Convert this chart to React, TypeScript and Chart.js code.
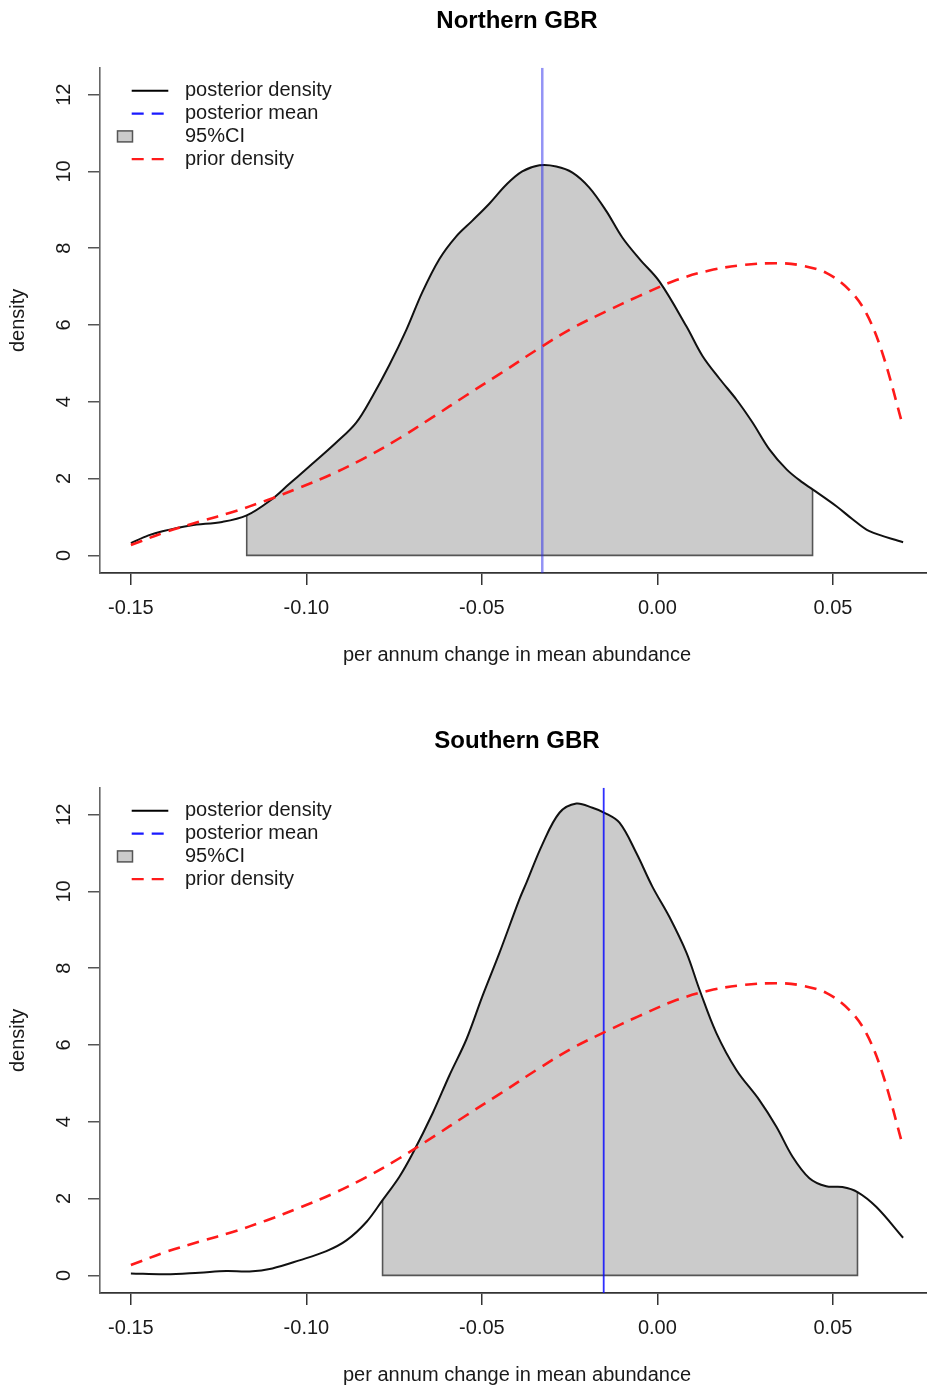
import React, { useEffect, useRef } from 'react';
import { Chart, registerables } from 'chart.js';

Chart.register(...registerables);

// ---------- data ----------
const X_MIN = -0.1588;
const X_MAX = 0.0788;
const Y_MIN = -0.46;
const Y_MAX = 12.7;
const X_TICKS = [-0.15, -0.1, -0.05, 0, 0.05];
const Y_TICKS = [0, 2, 4, 6, 8, 10, 12];
const X_LABEL = 'per annum change in mean abundance';
const Y_LABEL = 'density';
const LEGEND_LABELS = ['posterior density', 'posterior mean', '95%CI', 'prior density'];
const PANEL_TITLES = ['Northern GBR', 'Southern GBR'];

const NORTH_POST_X = [
  -0.15, -0.145, -0.141, -0.133, -0.124, -0.117, -0.11, -0.105, -0.1, -0.0915,
  -0.0858, -0.0812, -0.0764, -0.0715, -0.067, -0.0621, -0.0573, -0.0527, -0.0479, -0.043,
  -0.0385, -0.0336, -0.0288, -0.0242, -0.0194, -0.0145, -0.01, -0.005, 0.0006, 0.0083,
  0.0128, 0.0177, 0.0225, 0.0271, 0.0319, 0.0368, 0.0413, 0.0442, 0.051, 0.0556,
  0.0604, 0.07,
];
const NORTH_POST_Y = [
  0.32, 0.52, 0.63, 0.78, 0.87, 1.04, 1.45, 1.85, 2.25, 2.94,
  3.46, 4.14, 4.95, 5.88, 6.85, 7.72, 8.31, 8.72, 9.16, 9.66,
  10.0, 10.16, 10.13, 9.97, 9.58, 8.96, 8.28, 7.71, 7.13, 5.96,
  5.2, 4.6, 4.06, 3.46, 2.76, 2.24, 1.9, 1.72, 1.28, 0.94,
  0.63, 0.34,
];
const NORTH_CI = [-0.117, 0.0442];
const NORTH_MEAN = -0.0328;

const SOUTH_POST_X = [
  -0.15, -0.14, -0.1305, -0.1228, -0.1162, -0.1097, -0.102, -0.0943, -0.0886, -0.0829,
  -0.0783, -0.0735, -0.0697, -0.064, -0.0593, -0.0544, -0.0499, -0.045, -0.0393, -0.0373,
  -0.0328, -0.0279, -0.0231, -0.0185, -0.0151, -0.0108, -0.006, -0.0014, 0.0034, 0.0083,
  0.012, 0.0168, 0.0225, 0.029, 0.0339, 0.0385, 0.0433, 0.0481, 0.0527, 0.057,
  0.0624, 0.07,
];
const SOUTH_POST_Y = [
  0.05, 0.03, 0.07, 0.11, 0.1, 0.18, 0.39, 0.63, 0.91, 1.39,
  1.96, 2.57, 3.18, 4.23, 5.2, 6.15, 7.26, 8.4, 9.8, 10.23,
  11.22, 12.05, 12.29, 12.18, 12.05, 11.79, 11.0, 10.12, 9.34, 8.4,
  7.44, 6.31, 5.35, 4.57, 3.87, 3.09, 2.53, 2.32, 2.3, 2.17,
  1.78, 0.98,
];
const SOUTH_CI = [-0.0783, 0.057];
const SOUTH_MEAN = -0.0153;

const PRIOR_X = [
  -0.15, -0.14, -0.13, -0.121, -0.1114, -0.102, -0.0926, -0.0829, -0.0735, -0.064,
  -0.0544, -0.045, -0.0336, -0.0242, -0.0145, -0.0051, 0.0054, 0.0148, 0.0242, 0.0339,
  0.0405, 0.0481, 0.0547, 0.0595, 0.0641, 0.07,
];
const PRIOR_Y = [
  0.27, 0.61, 0.89, 1.13, 1.43, 1.76, 2.12, 2.56, 3.05, 3.6,
  4.17, 4.72, 5.4, 5.92, 6.36, 6.76, 7.17, 7.42, 7.56, 7.61,
  7.56, 7.36, 6.91, 6.31, 5.27, 3.35,
];

// ---------- styling ----------
const FONT = '"Liberation Sans", Arial, sans-serif';
const TEXT = '#1a1a1a';
const AXIS = '#333333';
const SMOOTH = 0.35;

const rLegendPlugin = {
  id: 'rLegend',
  afterDraw(chart: any, _args: any, opts: any) {
    const { ctx, chartArea } = chart;
    const left = chartArea.left;
    const top = chartArea.top;
    ctx.save();
    ctx.font = `20px ${FONT}`;
    ctx.textBaseline = 'middle';
    ctx.textAlign = 'left';
    (opts.items || []).forEach((item: any, i: number) => {
      const y = top + 23 + i * 22.8;
      if (item.kind === 'box') {
        ctx.setLineDash([]);
        ctx.fillStyle = item.fill;
        ctx.fillRect(left + 17.5, y - 5.5, 15, 11);
        ctx.strokeStyle = item.stroke;
        ctx.lineWidth = 1.5;
        ctx.strokeRect(left + 17.5, y - 5.5, 15, 11);
      } else {
        ctx.beginPath();
        ctx.setLineDash(item.dash);
        ctx.strokeStyle = item.color;
        ctx.lineWidth = item.width;
        ctx.moveTo(left + 31.7, y);
        ctx.lineTo(left + 68.3, y);
        ctx.stroke();
      }
      ctx.setLineDash([]);
      ctx.fillStyle = TEXT;
      ctx.fillText(item.label, left + 85, y);
    });
    ctx.restore();
  },
};

type Panel = {
  title: string;
  postX: number[];
  postY: number[];
  ci: number[];
  mean: number;
  meanColor: string;
  meanWidth: number;
};

function buildConfig(p: Panel): any {
  const post = p.postX.map((x, i) => ({ x, y: p.postY[i] }));
  const prior = PRIOR_X.map((x, i) => ({ x, y: PRIOR_Y[i] }));
  const [lo, hi] = p.ci;
  const ciArea = post.filter((d) => d.x >= lo - 1e-9 && d.x <= hi + 1e-9);
  const yNear = (x: number) =>
    post.reduce((best, d) => (Math.abs(d.x - x) < Math.abs(best.x - x) ? d : best), post[0]).y;
  const edges = [
    { x: lo, y: yNear(lo) },
    { x: lo, y: 0 },
    { x: hi, y: 0 },
    { x: hi, y: yNear(hi) },
  ];
  const meanLine = [
    { x: p.mean, y: Y_MIN },
    { x: p.mean, y: Y_MAX },
  ];

  const datasets = [
    {
      label: 'prior density',
      data: prior,
      borderColor: '#ff1a1a',
      borderWidth: 2.6,
      borderDash: [12, 8],
      tension: SMOOTH,
      pointRadius: 0,
      fill: false,
    },
    {
      label: 'posterior mean',
      data: meanLine,
      borderColor: p.meanColor,
      borderWidth: p.meanWidth,
      tension: 0,
      pointRadius: 0,
      fill: false,
    },
    {
      label: 'posterior density',
      data: post,
      borderColor: '#111111',
      borderWidth: 2,
      tension: SMOOTH,
      pointRadius: 0,
      fill: false,
    },
    {
      label: 'ci edges',
      data: edges,
      borderColor: '#555555',
      borderWidth: 1.6,
      tension: 0,
      pointRadius: 0,
      fill: false,
    },
    {
      label: '95%CI',
      data: ciArea,
      borderColor: 'rgba(0,0,0,0)',
      borderWidth: 0,
      backgroundColor: '#cbcbcb',
      tension: SMOOTH,
      pointRadius: 0,
      fill: 'origin',
    },
  ];

  return {
    type: 'line',
    data: { datasets },
    plugins: [rLegendPlugin],
    options: {
      animation: false,
      responsive: false,
      events: [],
      layout: { padding: { left: 0, right: 6, top: 0, bottom: 0 } },
      scales: {
        x: {
          type: 'linear',
          min: X_MIN,
          max: X_MAX,
          afterBuildTicks: (scale: any) => {
            scale.ticks = X_TICKS.map((value) => ({ value }));
          },
          afterFit: (scale: any) => {
            scale.height = 147;
          },
          ticks: {
            autoSkip: false,
            maxRotation: 0,
            minRotation: 0,
            padding: 11,
            color: TEXT,
            font: { family: FONT, size: 20 },
            callback: (v: any) => Number(v).toFixed(2),
          },
          grid: {
            drawOnChartArea: false,
            drawTicks: true,
            tickLength: 12,
            color: AXIS,
            lineWidth: 1.5,
          },
          border: { display: true, color: AXIS, width: 1.8 },
          title: {
            display: true,
            text: X_LABEL,
            color: TEXT,
            font: { family: FONT, size: 20 },
            padding: { top: 0, bottom: 53 },
          },
        },
        y: {
          type: 'linear',
          min: Y_MIN,
          max: Y_MAX,
          afterBuildTicks: (scale: any) => {
            scale.ticks = Y_TICKS.map((value) => ({ value }));
          },
          afterFit: (scale: any) => {
            scale.width = 100;
          },
          ticks: {
            autoSkip: false,
            minRotation: 90,
            maxRotation: 90,
            crossAlign: 'center',
            padding: 12,
            color: TEXT,
            font: { family: FONT, size: 20 },
            callback: (v: any) => String(v),
          },
          grid: {
            drawOnChartArea: false,
            drawTicks: true,
            tickLength: 12,
            color: '#555555',
            lineWidth: 1.5,
          },
          border: { display: true, color: '#666666', width: 1.6 },
          title: {
            display: true,
            text: Y_LABEL,
            color: TEXT,
            font: { family: FONT, size: 20 },
            padding: { top: 6, bottom: 0 },
          },
        },
      },
      plugins: {
        legend: { display: false },
        tooltip: { enabled: false },
        title: {
          display: true,
          text: p.title,
          color: '#000000',
          fullSize: false,
          font: { family: FONT, size: 24, weight: 'bold' },
          padding: { top: 7, bottom: 32 },
        },
        rLegend: {
          items: [
            { kind: 'line', label: LEGEND_LABELS[0], color: '#000000', width: 2, dash: [] },
            { kind: 'line', label: LEGEND_LABELS[1], color: '#1a1aff', width: 2.2, dash: [12, 8] },
            { kind: 'box', label: LEGEND_LABELS[2], fill: '#cbcbcb', stroke: '#555555' },
            { kind: 'line', label: LEGEND_LABELS[3], color: '#ff1a1a', width: 2.2, dash: [12, 8] },
          ],
        },
      },
    },
  };
}

function PanelChart({ panel, top }: { panel: Panel; top: number }) {
  const ref = useRef<HTMLCanvasElement | null>(null);
  useEffect(() => {
    if (!ref.current) return;
    const chart = new Chart(ref.current, buildConfig(panel));
    return () => chart.destroy();
  }, [panel]);
  return (
    <canvas
      ref={ref}
      width={940}
      height={720}
      style={{ position: 'absolute', left: 0, top, width: 940, height: 720 }}
    />
  );
}

const NORTH: Panel = {
  title: PANEL_TITLES[0],
  postX: NORTH_POST_X,
  postY: NORTH_POST_Y,
  ci: NORTH_CI,
  mean: NORTH_MEAN,
  meanColor: 'rgba(40,40,235,0.5)',
  meanWidth: 2.5,
};

const SOUTH: Panel = {
  title: PANEL_TITLES[1],
  postX: SOUTH_POST_X,
  postY: SOUTH_POST_Y,
  ci: SOUTH_CI,
  mean: SOUTH_MEAN,
  meanColor: 'rgba(10,10,255,0.85)',
  meanWidth: 1.8,
};

export default function App() {
  return (
    <div
      style={{
        position: 'absolute',
        left: 0,
        top: 0,
        width: 927,
        height: 1389,
        overflow: 'hidden',
        background: '#ffffff',
      }}
    >
      <PanelChart panel={NORTH} top={0} />
      <PanelChart panel={SOUTH} top={720} />
    </div>
  );
}
